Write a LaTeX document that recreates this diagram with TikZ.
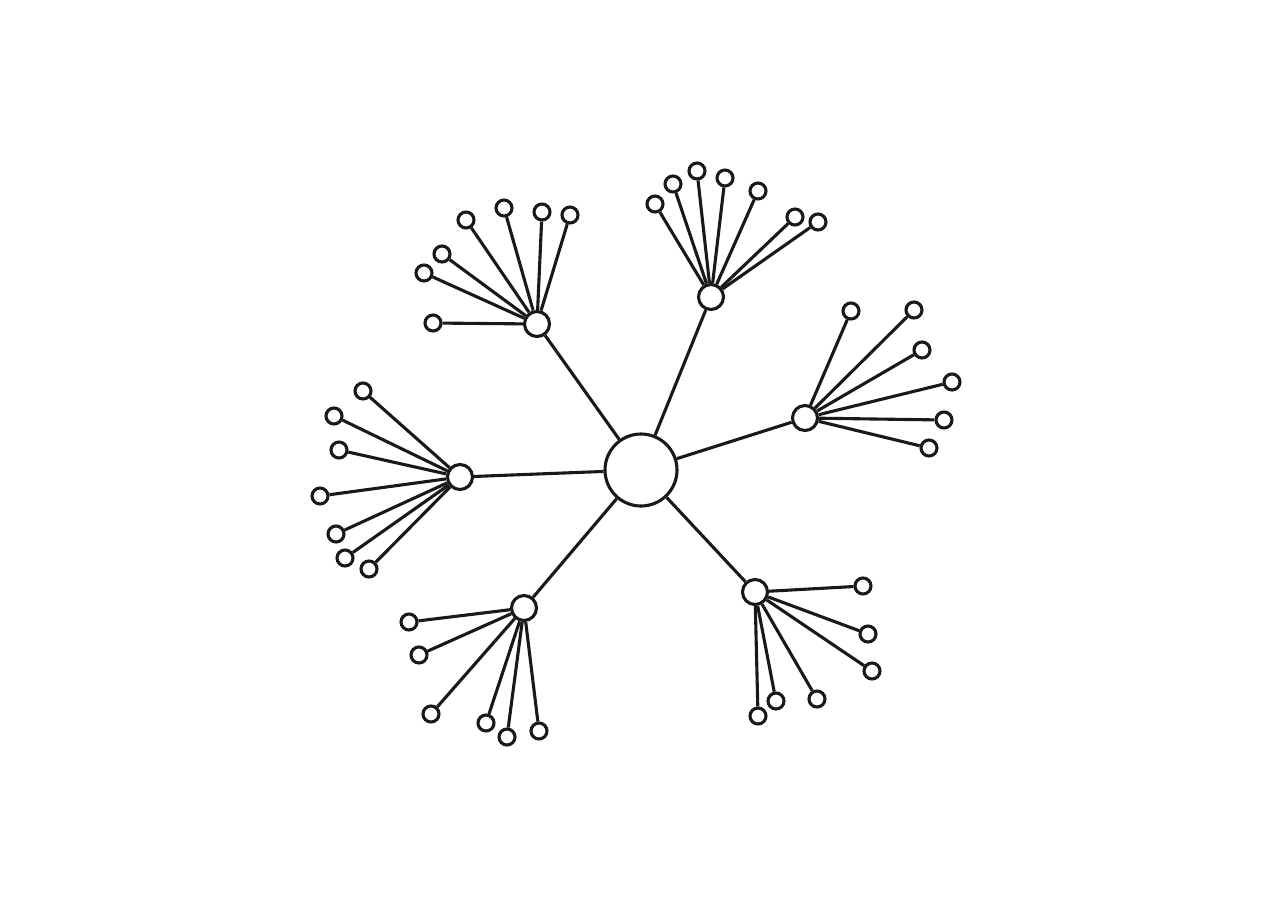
\documentclass[tikz,border=0pt]{standalone}
\usetikzlibrary{positioning}

\tikzset{
  dot/.style={circle,draw=ink,fill=white,line width=1.55pt,inner sep=0pt},
  root/.style={dot,minimum size=36pt},
  hub/.style={dot,minimum size=12.5pt},
  leaf/.style={dot,minimum size=8pt},
  twig/.style={draw=ink,line width=1.55pt}
}
\colorlet{ink}{black!90}

\begin{document}
\begin{tikzpicture}[x=0.5pt,y=-0.5pt]
   \useasboundingbox (0,-1) rectangle (1280,895);
   % centre and its six hubs
   \node[root] (c)  at (641,469) {};
   \node[hub]  (h1) at (537,323) {};
   \node[hub]  (h2) at (711,296) {};
   \node[hub]  (h3) at (805,417) {};
   \node[hub]  (h4) at (755,591) {};
   \node[hub]  (h5) at (524,607) {};
   \node[hub]  (h6) at (460,476) {};
   \foreach \h in {h1,h2,h3,h4,h5,h6}
      \path[twig] (c) -- (\h);
   % leaves of every hub
   \foreach \h/\k/\x/\y in {
      h1/1/433/322, h1/2/424/272, h1/3/442/253, h1/4/466/219,
      h1/5/504/207, h1/6/542/211, h1/7/570/214,
      h2/1/655/203, h2/2/673/183, h2/3/697/170, h2/4/725/177,
      h2/5/758/190, h2/6/795/216, h2/7/818/221,
      h3/1/851/310, h3/2/914/309, h3/3/922/349, h3/4/952/381,
      h3/5/944/419, h3/6/929/447,
      h4/1/863/585, h4/2/868/633, h4/3/872/670, h4/4/817/698,
      h4/5/776/700, h4/6/758/715,
      h5/1/409/621, h5/2/419/654, h5/3/431/713, h5/4/486/722,
      h5/5/507/736, h5/6/539/730,
      h6/1/363/390, h6/2/334/415, h6/3/339/449, h6/4/320/495,
      h6/5/336/533, h6/6/345/557, h6/7/369/568}
   {
      \node[leaf] (\h-\k) at (\x,\y) {};
      \path[twig] (\h) -- (\h-\k);
   }
\end{tikzpicture}
\end{document}
